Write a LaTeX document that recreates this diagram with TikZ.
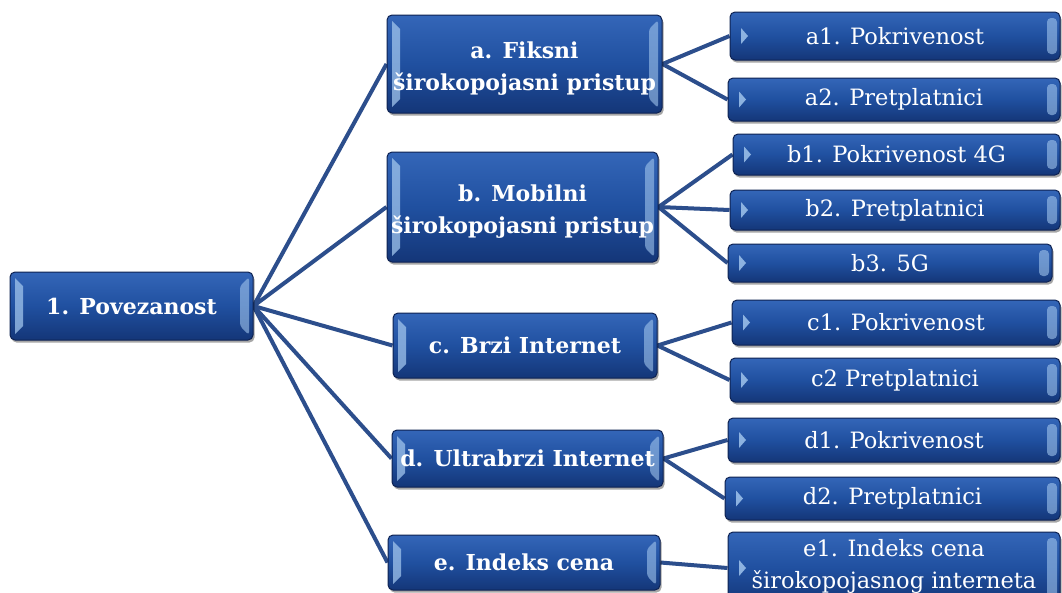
\documentclass[tikz,border=0pt]{standalone}
\usepackage{fontspec}
\setmainfont{DejaVu Serif}
\usetikzlibrary{calc,shadows}
\definecolor{boxtop}{RGB}{52,102,184}
\definecolor{boxmid}{RGB}{32,80,160}
\definecolor{boxbot}{RGB}{20,54,120}
\definecolor{boxline}{RGB}{14,34,82}
\definecolor{bevelc}{RGB}{160,196,236}
\definecolor{linkc}{RGB}{44,78,140}
\pgfdeclarelayer{bg}
\pgfsetlayers{bg,main}
\tikzset{
  basebox/.style={rectangle, rounded corners=5pt, draw=boxline, line width=1pt,
    top color=boxtop, bottom color=boxbot, middle color=boxmid,
    text=white, align=center, inner sep=1pt,
    drop shadow={shadow xshift=1.5pt, shadow yshift=-2.5pt, opacity=0.35, fill=black}},
  midbox/.style={basebox, font=\bfseries\fontsize{22}{32}\selectfont,
    path picture={
      \fill[bevelc, opacity=0.75, sharp corners] ($(path picture bounding box.north west)+(5pt,-6pt)$) -- ++(8pt,-8pt)
        -- ($(path picture bounding box.south west)+(13pt,14pt)$) -- ++(-8pt,-8pt) -- cycle;
      \fill[bevelc, opacity=0.6, rounded corners=3pt] ($(path picture bounding box.north east)+(-4pt,-5pt)$) -- ++(-9pt,-9pt)
        -- ($(path picture bounding box.south east)+(-13pt,14pt)$) -- ++(9pt,-9pt) -- cycle;
    }},
  leafbox/.style={basebox, font=\fontsize{22.5}{32}\selectfont,
    path picture={
      \fill[bevelc, opacity=0.85, sharp corners] ($(path picture bounding box.west)+(11pt,8pt)$) -- ++(7pt,-8pt) -- ++(-7pt,-8pt) -- cycle;
      \fill[bevelc, opacity=0.6, rounded corners=4pt] ($(path picture bounding box.north east)+(-13pt,-6pt)$)
        rectangle ($(path picture bounding box.south east)+(-3pt,6pt)$);
    }},
  twoline/.style={text height=58pt},
  linkline/.style={draw=linkc, line width=4pt}
}
\begin{document}
\begin{tikzpicture}[x=1pt,y=1pt]
\useasboundingbox (0,0) rectangle (1062,-592);
% root
\node[midbox, minimum width=243, minimum height=68] (root) at (131.5,-306) {1. Povezanost};
% middle level
\node[midbox, twoline, minimum width=275, minimum height=98] (a) at (524.5,-64) {a. Fiksni\\širokopojasni pristup};
\node[midbox, twoline, minimum width=271, minimum height=110] (b) at (522.5,-207) {b. Mobilni\\širokopojasni pristup};
\node[midbox, minimum width=264, minimum height=65] (c) at (525,-345.5) {c. Brzi Internet};
\node[midbox, minimum width=271, minimum height=57] (d) at (527.5,-458.5) {d. Ultrabrzi Internet};
\node[midbox, minimum width=272, minimum height=55] (e) at (524,-562.5) {e. Indeks cena};
% leaves
\node[leafbox, minimum width=330, minimum height=48] (a1) at (895,-36) {a1. Pokrivenost};
\node[leafbox, minimum width=332, minimum height=43] (a2) at (894,-99.5) {a2. Pretplatnici};
\node[leafbox, minimum width=327, minimum height=41] (b1) at (896.5,-154.5) {b1. Pokrivenost 4G};
\node[leafbox, minimum width=330, minimum height=40] (b2) at (895,-210) {b2. Pretplatnici};
\node[leafbox, minimum width=324, minimum height=38] (b3) at (890,-263) {b3. 5G};
\node[leafbox, minimum width=328, minimum height=45] (c1) at (896,-322.5) {c1. Pokrivenost};
\node[leafbox, minimum width=330, minimum height=44] (c2) at (895,-380) {c2 Pretplatnici};
\node[leafbox, minimum width=332, minimum height=44] (d1) at (894,-440) {d1. Pokrivenost};
\node[leafbox, minimum width=335, minimum height=43] (d2) at (892.5,-498.5) {d2. Pretplatnici};
\node[leafbox, minimum width=332, minimum height=72, text depth=8pt] (e1) at (894,-568) {e1. Indeks cena\\širokopojasnog interneta};
\begin{pgfonlayer}{bg}
\fill[white] (0,0) rectangle (1062,-592);
\foreach \m in {a,b,c,d,e} \path[linkline] (root.east) -- (\m.west);
\path[linkline] (a.east) -- (a1.west);
\path[linkline] (a.east) -- (a2.west);
\path[linkline] (b.east) -- (b1.west);
\path[linkline] (b.east) -- (b2.west);
\path[linkline] (b.east) -- (b3.west);
\path[linkline] (c.east) -- (c1.west);
\path[linkline] (c.east) -- (c2.west);
\path[linkline] (d.east) -- (d1.west);
\path[linkline] (d.east) -- (d2.west);
\path[linkline] (e.east) -- (e1.west);
\end{pgfonlayer}
\end{tikzpicture}
\end{document}
